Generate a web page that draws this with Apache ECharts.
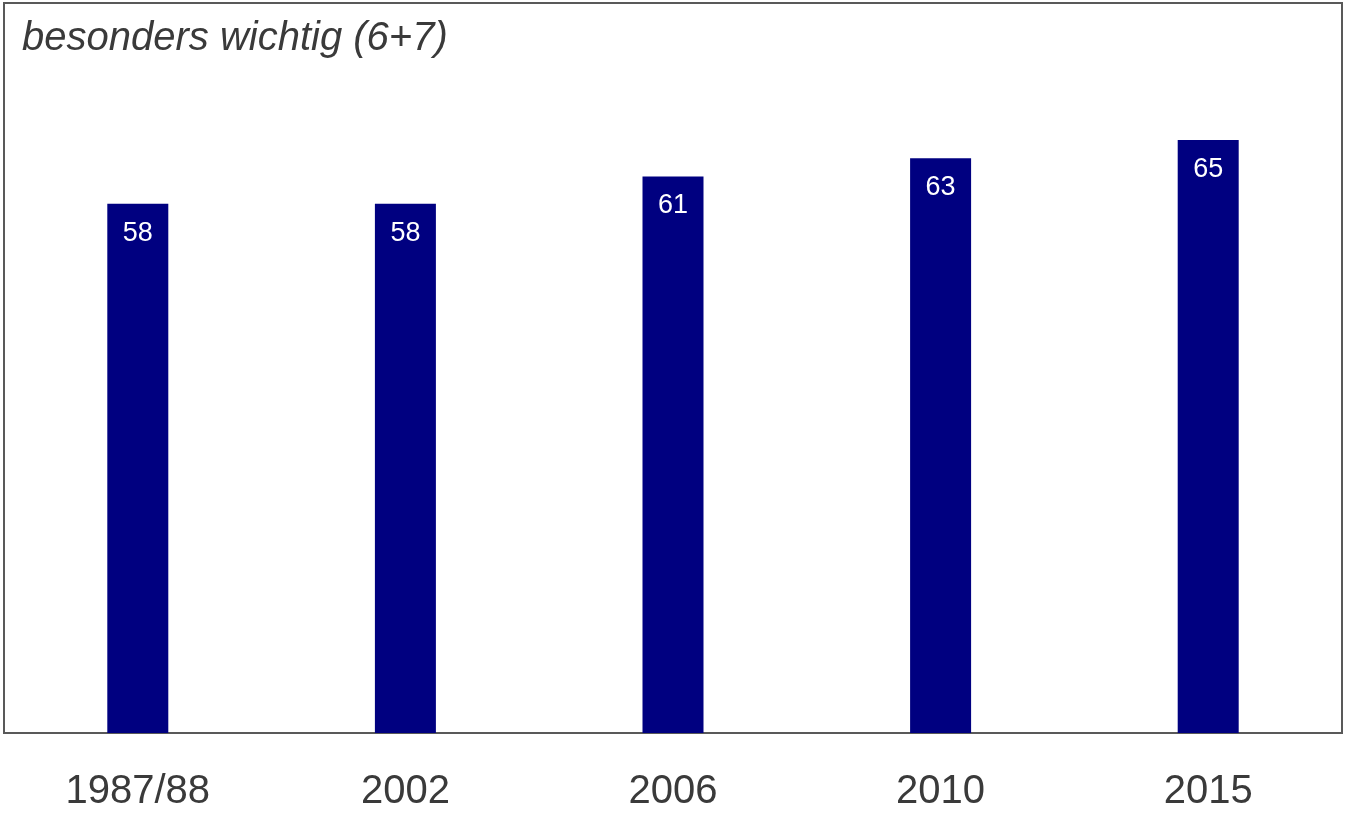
<!DOCTYPE html>
<html>
<head>
<meta charset="utf-8">
<script src="https://cdn.jsdelivr.net/npm/echarts@6/dist/echarts.min.js"></script>
<style>html,body{margin:0;padding:0;background:#fff;}#c{width:1345px;height:815px;}</style>
</head>
<body>
<div id="c"></div>
<script>
const categories = ['1987/88', '2002', '2006', '2010', '2015'];
const values = [58, 58, 61, 63, 65];
const titleText = 'besonders wichtig (6+7)';

const chart = echarts.init(document.getElementById('c'), null, {renderer: 'canvas'});
chart.setOption({
  animation: false,
  backgroundColor: '#ffffff',
  title: {
    text: titleText,
    left: 22, top: 19, padding: 0,
    textStyle: {fontFamily: 'Liberation Sans, Arial, sans-serif', fontStyle: 'italic', fontWeight: 'normal', fontSize: 40, color: '#3a3a3a'}
  },
  grid: {
    left: 4, right: 3, top: 3, bottom: 82,
    show: true, borderWidth: 2, borderColor: '#595959', backgroundColor: 'transparent'
  },
  xAxis: {
    type: 'category',
    data: categories,
    axisLine: {show: true, lineStyle: {color: '#595959', width: 2}},
    axisTick: {show: false},
    axisLabel: {margin: 39, fontSize: 40, color: '#3a3a3a', fontFamily: 'Liberation Sans, Arial, sans-serif'}
  },
  yAxis: {
    type: 'value', min: 0, max: 80,
    show: false,
    splitLine: {show: false}
  },
  series: [{
    type: 'bar',
    data: values,
    barWidth: 61,
    itemStyle: {color: '#000080'},
    label: {
      show: true, position: 'insideTop', distance: 16,
      color: '#ffffff', fontSize: 27, fontFamily: 'Liberation Sans, Arial, sans-serif'
    }
  }]
});
</script>
</body>
</html>
